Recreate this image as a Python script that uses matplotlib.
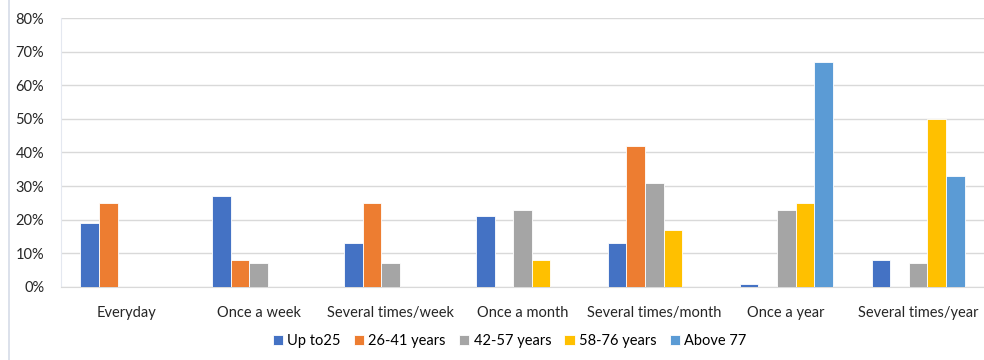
import numpy as np
import matplotlib.pyplot as plt
from matplotlib.ticker import PercentFormatter

categories = ["Everyday", "Once a week", "Several times/week", "Once a month",
              "Several times/month", "Once a year", "Several times/year"]
groups = ["Up to25", "26-41 years", "42-57 years", "58-76 years", "Above 77"]
up_to_25 = [19, 27, 13, 21, 13, 1, 8]
age_26_41 = [25, 8, 25, 0, 42, 0, 0]
age_42_57 = [0, 7, 7, 23, 31, 23, 7]
age_58_76 = [0, 0, 0, 8, 17, 25, 50]
above_77 = [0, 0, 0, 0, 0, 67, 33]
colors = ["#4472C4", "#ED7D31", "#A5A5A5", "#FFC000", "#5B9BD5"]

plt.rcParams['font.family'] = ['Lato', 'DejaVu Sans']

fig = plt.figure(figsize=(9.84, 3.6), dpi=100)
ax = fig.add_axes([0.062, 0.203, 0.938, 0.747])

x = np.arange(len(categories))
w = 0.141
series = [up_to_25, age_26_41, age_42_57, age_58_76, above_77]
for i, (vals, name, c) in enumerate(zip(series, groups, colors)):
    ax.bar(x + (i - 2) * w, vals, w, color=c, label=name,
           edgecolor="white", linewidth=0.6, zorder=3)

ax.set_xlim(-0.5, len(categories) - 0.5)
ax.set_ylim(0, 80)
ax.set_yticks(np.arange(0, 81, 10))
ax.yaxis.set_major_formatter(PercentFormatter(decimals=0))
ax.set_xticks(x)
ax.set_xticklabels(categories)
ax.tick_params(length=0, labelsize=10.5, colors="#262626")
ax.tick_params(axis="x", pad=14)
ax.tick_params(axis="y", pad=12)
ax.grid(axis="y", color="#D9D9D9", linewidth=1, zorder=0)
for s in ["top", "right"]:
    ax.spines[s].set_visible(False)
ax.spines["left"].set_color("#E4E8F0")
ax.spines["bottom"].set_color("#D9D9D9")

ax.legend(loc="upper center", bbox_to_anchor=(0.486, -0.128), ncol=5,
          frameon=False, fontsize=10.5, handlelength=0.7, handleheight=0.7,
          handletextpad=0.3, columnspacing=0.9)

# thin frame line on the left of the chart
fig.add_artist(plt.Line2D([0.009, 0.009], [0, 1], color="#D6DCE8", linewidth=1.2))

fig.savefig("out.png", dpi=100)
